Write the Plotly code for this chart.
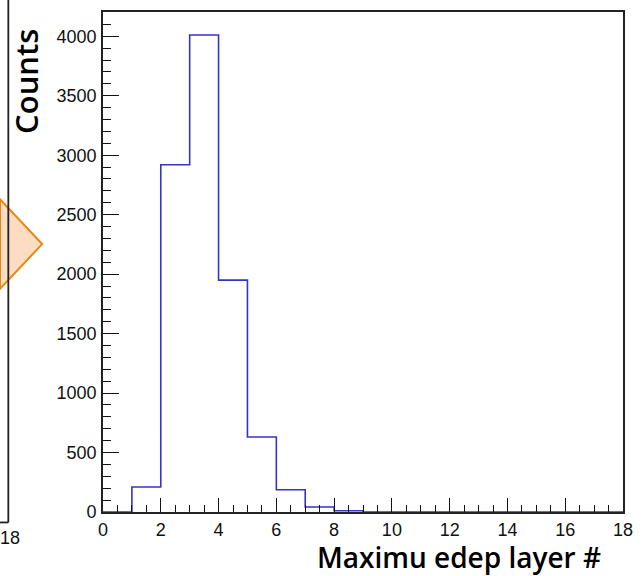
import plotly.graph_objects as go

# data: bin edges 0..18 (width 1) and counts per bin
bin_edges = list(range(0, 19))
counts = [0, 210, 2920, 4010, 1950, 630, 187, 42, 10, 0, 0, 0, 0, 0, 0, 0, 0, 0]
x_ticks = [0, 2, 4, 6, 8, 10, 12, 14, 16, 18]
y_ticks = [0, 500, 1000, 1500, 2000, 2500, 3000, 3500, 4000]

W, H = 643, 576
L, R, T, B = 103, 10, 10, 64
pw, ph = W - L - R, H - T - B

def px(x):
    return (x - L) / pw

def py(y):
    return (H - B - y) / ph

step_x = bin_edges
step_y = counts + [counts[-1]]

fig = go.Figure()
fig.add_trace(go.Scatter(
    x=step_x, y=step_y, mode="lines", line_shape="hv",
    line=dict(color="#3535c4", width=1.6), hoverinfo="skip", showlegend=False,
))

tickfont = dict(family="Liberation Sans, Arial, sans-serif", size=18, color="#111")
fig.update_layout(
    width=W, height=H,
    margin=dict(l=L, r=R, t=T, b=B),
    paper_bgcolor="white", plot_bgcolor="white",
    showlegend=False,
    xaxis=dict(
        range=[0, 18], tickvals=x_ticks, ticks="inside", ticklen=14, tickwidth=1.2,
        tickcolor="#111", showgrid=False, zeroline=False,
        showline=True, linecolor="#222", linewidth=1.8, mirror=True,
        tickfont=tickfont, ticklabelstandoff=0,
        minor=dict(dtick=0.5, ticks="inside", ticklen=7, tickwidth=1.2, tickcolor="#111", showgrid=False),
    ),
    yaxis=dict(
        range=[0, 4204], tickvals=y_ticks, tickformat="d", ticks="inside", ticklen=16, tickwidth=1.2,
        tickcolor="#111", showgrid=False, zeroline=False,
        showline=True, linecolor="#222", linewidth=1.8, mirror=True,
        tickfont=tickfont, ticklabelstandoff=1,
        minor=dict(dtick=100, ticks="inside", ticklen=8, tickwidth=1.2, tickcolor="#111", showgrid=False),
    ),
)

fig.add_annotation(
    text="Counts", xref="paper", yref="paper", x=px(25), y=py(26),
    xanchor="center", yanchor="top", textangle=-90, showarrow=False, borderpad=0,
    font=dict(family="Open Sans, Noto Sans, sans-serif", size=31, color="black", weight=600),
)
fig.add_annotation(
    text="Maximu edep layer #", xref="paper", yref="paper", x=px(612), y=py(577),
    xanchor="right", yanchor="bottom", showarrow=False, borderpad=0,
    font=dict(family="Open Sans, Noto Sans, sans-serif", size=28, color="black", weight=600),
)

# decorations from neighbouring panel (cropped left edge)
fig.add_shape(type="path", xref="paper", yref="paper",
              path=f"M {px(-2)},{py(198)} L {px(41)},{py(243)} L {px(-2)},{py(288)} Z",
              fillcolor="#fcdcc2", line=dict(color="#e8860e", width=2), layer="above")
fig.add_shape(type="line", xref="paper", yref="paper",
              x0=px(6.5), y0=py(-2), x1=px(6.5), y1=py(522.5),
              line=dict(color="#222", width=1.8))
fig.add_shape(type="line", xref="paper", yref="paper",
              x0=px(-2), y0=py(522.5), x1=px(6.5), y1=py(522.5),
              line=dict(color="#222", width=1.8))
fig.add_annotation(text="18", xref="paper", yref="paper", x=px(8), y=py(538),
                   xanchor="center", yanchor="middle", showarrow=False, font=tickfont)

fig.write_html("out.html")
